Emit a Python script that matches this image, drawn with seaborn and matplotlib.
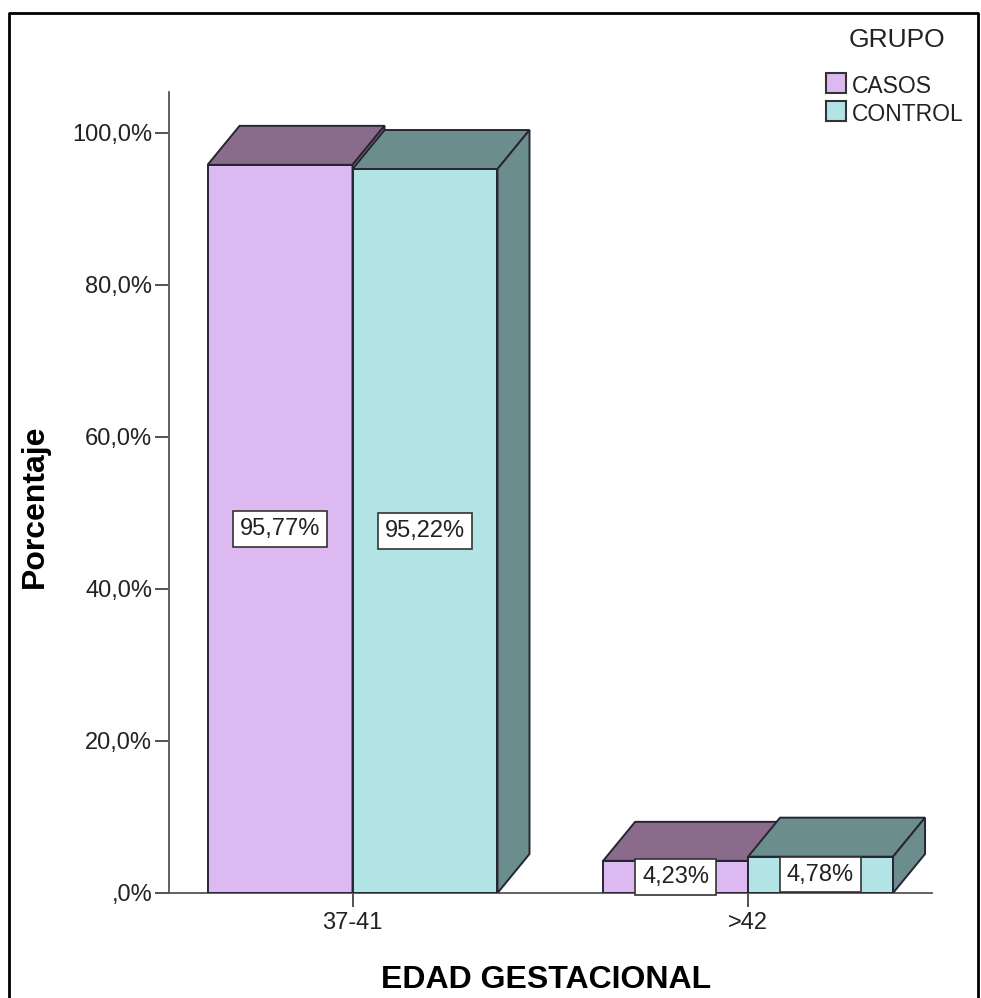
import matplotlib
matplotlib.use("Agg")
import matplotlib.pyplot as plt
from matplotlib.patches import Polygon, Rectangle
from matplotlib.lines import Line2D
from matplotlib.ticker import FuncFormatter, MultipleLocator
import seaborn as sns
import pandas as pd

# Data: gestational age groups, percentage per study group
categories = ["37-41", ">42"]
groups = ["CASOS", "CONTROL"]
casos_pct = [95.77, 4.23]
control_pct = [95.22, 4.78]

front_colors = ["#DDB9F1", "#B2E4E6"]
shade_colors = ["#8A6B8C", "#6B8D8D"]
edge = "#262633"

df = pd.DataFrame({
    "EDAD GESTACIONAL": categories * 2,
    "GRUPO": [groups[0]] * len(categories) + [groups[1]] * len(categories),
    "Porcentaje": casos_pct + control_pct,
})

sns.set_theme(style="white")
plt.rcParams["font.family"] = ["Liberation Sans", "DejaVu Sans"]

W, H = 981, 998
fig = plt.figure(figsize=(W / 100, H / 100), dpi=100)
ax = fig.add_axes([169 / W, (H - 893) / H, (932 - 169) / W, (893 - 92) / H])

sns.barplot(data=df, x="EDAD GESTACIONAL", y="Porcentaje", hue="GRUPO",
            order=categories, hue_order=groups, palette=front_colors,
            width=0.733, edgecolor=edge, linewidth=1.4, saturation=1,
            legend=False, ax=ax)

ax.set_xlim(-0.464, 1.465)
ax.set_ylim(0, 105.35)

# depth of the pseudo-3D extrusion, in data units
dx = 32 / 395.5
dy = 39 / 7.603


def pct_label(v):
    return f"{v:.2f}%".replace(".", ",")


values = [casos_pct, control_pct]
for i, (cont, shade, vals) in enumerate(zip(ax.containers, shade_colors, values)):
    z = 3 + i
    for bar, v in zip(cont, vals):
        x0 = bar.get_x()
        w = bar.get_width()
        h = bar.get_height()
        bar.set_zorder(z)
        top = Polygon([(x0, h), (x0 + w, h), (x0 + w + dx, h + dy), (x0 + dx, h + dy)],
                      closed=True, fc=shade, ec=edge, lw=1.4, zorder=z)
        side = Polygon([(x0 + w, 0), (x0 + w + dx, dy), (x0 + w + dx, h + dy), (x0 + w, h)],
                       closed=True, fc=shade, ec=edge, lw=1.4, zorder=z)
        ax.add_patch(top)
        ax.add_patch(side)
        ax.text(x0 + w / 2, h / 2, pct_label(v), ha="center", va="center",
                fontsize=17, color="#222222", zorder=10 + i,
                bbox=dict(boxstyle="square,pad=0.28", fc="white", ec="#333333", lw=1.2))


def y_fmt(v, _):
    s = f"{v:.1f}".replace(".", ",")
    if s.startswith("0,"):
        s = s[1:]
    return s + "%"


ax.yaxis.set_major_locator(MultipleLocator(20))
ax.yaxis.set_major_formatter(FuncFormatter(y_fmt))
ax.tick_params(axis="both", which="major", bottom=True, left=True, direction="out",
               length=10, width=1.3, color="#444444", labelsize=17,
               labelcolor="#222222", pad=2)
ax.tick_params(axis="x", pad=4)

for side_name in ["top", "right"]:
    ax.spines[side_name].set_visible(False)
for side_name in ["left", "bottom"]:
    ax.spines[side_name].set_color("#555555")
    ax.spines[side_name].set_linewidth(1.3)

ax.set_xlabel("")
ax.set_ylabel("")

fig.text(546 / W, 1 - 988 / H, "EDAD GESTACIONAL", ha="center", va="baseline",
         fontsize=23, fontweight="bold", color="black")
fig.text(43 / W, 1 - 506 / H, "Porcentaje", rotation=90, rotation_mode="anchor",
         ha="center", va="baseline", fontsize=23, fontweight="bold", color="black")

# legend
fig.text(897 / W, 1 - 47 / H, "GRUPO", ha="center", va="baseline",
         fontsize=19, color="#222222")
legend_rows = [93, 121]
for name, col, yb in zip(groups, front_colors, legend_rows):
    fig.add_artist(Rectangle((826 / W, 1 - yb / H), 20 / W, 20 / H,
                             transform=fig.transFigure, fc=col, ec="#333333", lw=1.5))
    fig.text(852 / W, 1 - yb / H, name, ha="left", va="baseline",
             fontsize=16.5, color="#222222")

# outer frame
fig.add_artist(Line2D([9 / W, 9 / W, 978 / W, 978 / W], [0, 1 - 13 / H, 1 - 13 / H, 0],
                      transform=fig.transFigure, color="black", lw=2))

fig.savefig("out.png", dpi=100)
